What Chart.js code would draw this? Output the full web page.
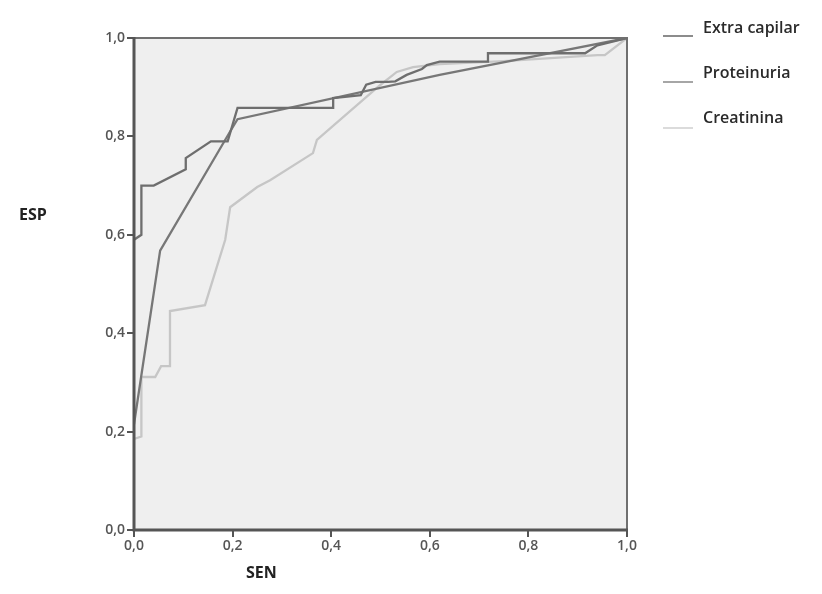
<!DOCTYPE html>
<html>
<head>
<meta charset="utf-8">
<script src="https://cdn.jsdelivr.net/npm/chart.js@4/dist/chart.umd.min.js"></script>
<style>
  html, body { margin: 0; padding: 0; background: #ffffff; }
  #wrap { width: 822px; height: 594px; position: relative; }
</style>
</head>
<body>
<div id="wrap"><canvas id="c" width="822" height="594"></canvas></div>
<script>
// ---- Data ----
const seriesNames = ["Extra capilar", "Proteinuria", "Creatinina"];
const tickValues = [0, 0.2, 0.4, 0.6, 0.8, 1.0];
const axisTitleX = "SEN";
const axisTitleY = "ESP";

const extraX = [0, 0.015, 0.015, 0.04, 0.105, 0.105, 0.156, 0.19, 0.21, 0.404, 0.404, 0.46, 0.471, 0.49, 0.515, 0.53, 0.553, 0.584, 0.594, 0.62, 0.718, 0.718, 0.915, 0.94, 1.0];
const extraY = [0.59, 0.60, 0.70, 0.70, 0.733, 0.756, 0.79, 0.79, 0.858, 0.858, 0.878, 0.884, 0.905, 0.911, 0.911, 0.912, 0.925, 0.937, 0.945, 0.952, 0.952, 0.969, 0.969, 0.985, 1.0];

const protX = [0, 0.053, 0.195, 0.21, 0.62, 1.0];
const protY = [0.215, 0.568, 0.81, 0.835, 0.925, 1.0];

const creatX = [0, 0.015, 0.015, 0.03, 0.043, 0.055, 0.073, 0.073, 0.144, 0.185, 0.195, 0.25, 0.276, 0.363, 0.371, 0.499, 0.533, 0.566, 0.62, 0.75, 0.94, 0.955, 1.0];
const creatY = [0.185, 0.19, 0.311, 0.311, 0.311, 0.333, 0.333, 0.445, 0.457, 0.59, 0.656, 0.697, 0.711, 0.766, 0.793, 0.904, 0.931, 0.941, 0.947, 0.953, 0.965, 0.965, 1.0];

// ---- Styles ----
const lineColors = ["#6e6e6e", "#777777", "#c6c6c6"];
const legendColors = ["#666666", "#888888", "#cfcfcf"];

function pts(xs, ys) { return xs.map((x, i) => ({ x: x, y: ys[i] })); }

const area = { left: 134, top: 38, right: 627, bottom: 530 };

const framePlugin = {
  id: 'frame',
  beforeDraw(chart) {
    const { ctx, chartArea: a } = chart;
    ctx.save();
    ctx.fillStyle = '#efefef';
    ctx.fillRect(a.left, a.top, a.right - a.left, a.bottom - a.top);
    ctx.restore();
  },
  afterDraw(chart) {
    const { ctx, chartArea: a } = chart;
    ctx.save();
    ctx.strokeStyle = '#707070';
    ctx.lineWidth = 2;
    ctx.strokeRect(a.left, a.top, a.right - a.left, a.bottom - a.top);
    ctx.strokeStyle = '#555555';
    ctx.lineWidth = 3;
    ctx.beginPath();
    ctx.moveTo(a.left, a.top - 1);
    ctx.lineTo(a.left, a.bottom);
    ctx.lineTo(a.right + 1, a.bottom);
    ctx.stroke();
    // axis titles
    ctx.fillStyle = '#222222';
    ctx.font = '700 16px "Open Sans", sans-serif';
    ctx.textBaseline = 'middle';
    ctx.textAlign = 'left';
    ctx.fillText(axisTitleY, 19, 215);
    ctx.fillText(axisTitleX, 246, 573);
    // legend
    ctx.font = '600 16px "Open Sans", sans-serif';
    const ly = [36, 82, 128];
    const ty = [28, 73, 118];
    seriesNames.forEach((n, i) => {
      ctx.strokeStyle = legendColors[i];
      ctx.lineWidth = 1.5;
      ctx.beginPath();
      ctx.moveTo(663, ly[i]);
      ctx.lineTo(693, ly[i]);
      ctx.stroke();
      ctx.fillStyle = '#2a2a2a';
      ctx.fillText(n, 703, ty[i]);
    });
    ctx.restore();
  }
};

const fmt = v => Number(v).toFixed(1).replace('.', ',');

new Chart(document.getElementById('c'), {
  type: 'scatter',
  data: {
    datasets: [
      { label: seriesNames[0], data: pts(extraX, extraY), showLine: true, borderColor: lineColors[0], borderWidth: 2.3, pointRadius: 0, order: 1, tension: 0 },
      { label: seriesNames[1], data: pts(protX, protY), showLine: true, borderColor: lineColors[1], borderWidth: 2.3, pointRadius: 0, order: 2, tension: 0 },
      { label: seriesNames[2], data: pts(creatX, creatY), showLine: true, borderColor: lineColors[2], borderWidth: 2.3, pointRadius: 0, order: 3, tension: 0 }
    ]
  },
  options: {
    responsive: false,
    animation: false,
    layout: { padding: { left: 0, top: area.top, right: 822 - area.right, bottom: 0 } },
    plugins: { legend: { display: false }, tooltip: { enabled: false } },
    scales: {
      x: {
        type: 'linear', min: 0, max: 1,
        afterBuildTicks: s => { s.ticks = tickValues.map(v => ({ value: v })); },
        afterFit: s => { s.height = 594 - area.bottom; },
        grid: { drawOnChartArea: false, drawTicks: true, tickLength: 7, color: '#555555', lineWidth: 2 },
        border: { display: true, color: '#555555', width: 2 },
        ticks: { callback: fmt, color: '#555555', padding: 1, maxRotation: 0, font: { family: '"Open Sans", sans-serif', size: 14, weight: '600' } }
      },
      y: {
        type: 'linear', min: 0, max: 1,
        afterBuildTicks: s => { s.ticks = tickValues.map(v => ({ value: v })); },
        afterFit: s => { s.width = area.left; },
        grid: { drawOnChartArea: false, drawTicks: true, tickLength: 7, color: '#555555', lineWidth: 2 },
        border: { display: true, color: '#555555', width: 2 },
        ticks: { callback: fmt, color: '#555555', padding: 2, font: { family: '"Open Sans", sans-serif', size: 14, weight: '600' } }
      }
    }
  },
  plugins: [framePlugin]
});
</script>
</body>
</html>
